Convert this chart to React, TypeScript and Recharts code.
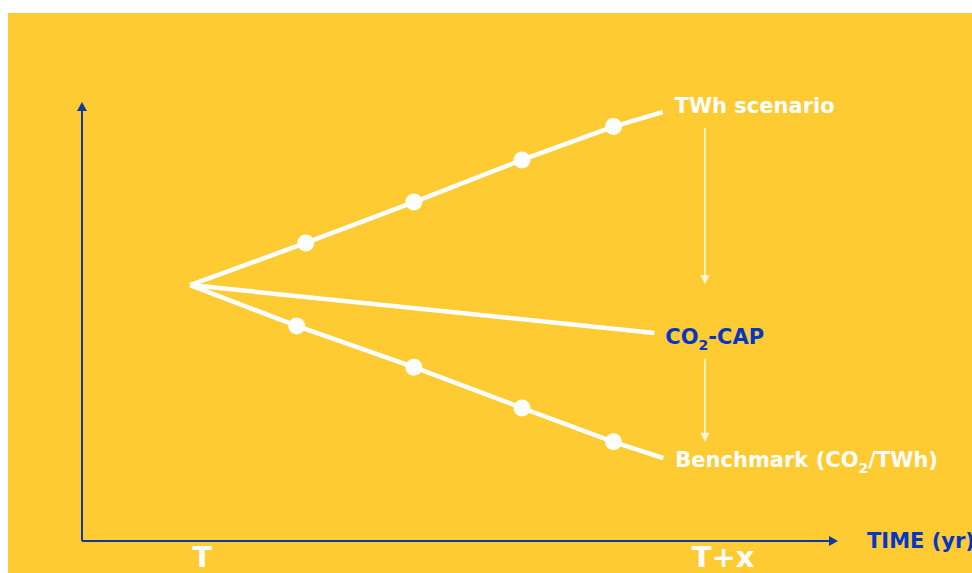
import React from 'react';
import { LineChart, Line, XAxis, YAxis, ReferenceLine, LabelList } from 'recharts';

// Escenarios (unidades arbitrarias: tiempo 0-100, nivel 0-100)
const twhX = [14.3, 29.6, 43.9, 58.2, 70.3, 76.8];
const twhY = [58.3, 67.9, 77.2, 86.8, 94.4, 97.7];
const capX = [14.3, 75.7];
const capY = [58.3, 47.4];
const benchX = [14.3, 28.4, 43.9, 58.2, 70.3, 76.9];
const benchY = [58.3, 49.0, 39.6, 30.3, 22.6, 18.9];

const seriesNames = ['TWh scenario', 'CO2-CAP', 'Benchmark (CO2/TWh)'];

const tickValues = [15.9, 84.8];
const tickLabels = ['T', 'T+x'];

// flechas verticales entre escenarios
const shiftArrows = [
  { x: 82.4, from: 94.1, to: 58.5 },
  { x: 82.4, from: 41.5, to: 22.6 },
];

const YELLOW = '#FECB33';
const NAVY = '#0B3C9C';
const BLUE = '#0636C4';
const FONT = '"DejaVu Sans", Verdana, sans-serif';

const toRows = (xs: number[], ys: number[], name: string) =>
  xs.map((x, i) => ({ x, y: ys[i], name: i === xs.length - 1 ? name : '' }));

const twhData = toRows(twhX, twhY, seriesNames[0]);
const capData = toRows(capX, capY, seriesNames[1]);
const benchData = toRows(benchX, benchY, seriesNames[2]);

function arrowShape(color: string, width: number, head: number, half: number) {
  return (p: any) => {
    const { x1, y1, x2, y2 } = p;
    const dx = x2 - x1;
    const dy = y2 - y1;
    const len = Math.sqrt(dx * dx + dy * dy) || 1;
    const ux = dx / len;
    const uy = dy / len;
    const bx = x2 - ux * head;
    const by = y2 - uy * head;
    const pts = `${x2},${y2} ${bx - uy * half},${by + ux * half} ${bx + uy * half},${by - ux * half}`;
    return (
      <g>
        <line x1={x1} y1={y1} x2={bx} y2={by} stroke={color} strokeWidth={width} />
        <polygon points={pts} fill={color} />
      </g>
    );
  };
}

// "CO2" con el 2 en subíndice
function renderName(text: string, x: number, y: number, fill: string) {
  const chunks = text.split(/(?<=CO)2/);
  const spans: React.ReactNode[] = [];
  chunks.forEach((c, i) => {
    if (i > 0) {
      spans.push(<tspan key={`s${i}`} fontSize={14} dy={6}>2</tspan>);
      spans.push(<tspan key={`t${i}`} dy={-6}>{c}</tspan>);
    } else {
      spans.push(<tspan key={`t${i}`}>{c}</tspan>);
    }
  });
  return (
    <text x={x} y={y} fill={fill} fontFamily={FONT} fontWeight="bold" fontSize={21}>
      {spans}
    </text>
  );
}

function endLabel(fill: string, dx: number, dy: number) {
  return (props: any) => {
    const { x, y, value } = props;
    if (!value) return null;
    return renderName(String(value), Number(x) + dx, Number(y) + dy, fill);
  };
}

function innerDot(count: number) {
  return (props: any) => {
    const { cx, cy, index } = props;
    if (index === 0 || index === count - 1) return <g key={`d-${index}`} />;
    return <circle key={`d-${index}`} cx={cx} cy={cy} r={8.5} fill="#ffffff" stroke="none" />;
  };
}

function TimeTick(props: any) {
  const { x, y, payload } = props;
  const i = tickValues.indexOf(payload.value);
  return (
    <text x={x} y={y + 26} textAnchor="middle" fill="#ffffff" fontFamily={FONT} fontWeight="bold" fontSize={29}>
      {tickLabels[i]}
    </text>
  );
}

export default function App() {
  return (
    <div style={{ position: 'absolute', left: 8, top: 13, width: 964, height: 560, background: YELLOW }}>
      <LineChart width={964} height={560} margin={{ top: 89, right: 134, bottom: 2, left: 74 }}>
        <XAxis
          type="number"
          dataKey="x"
          domain={[0, 100]}
          ticks={tickValues}
          axisLine={false}
          tickLine={false}
          tickSize={0}
          tickMargin={0}
          height={30}
          tick={<TimeTick />}
          interval={0}
        />
        <YAxis type="number" dataKey="y" domain={[0, 100]} hide />

        <ReferenceLine
          segment={[{ x: 0, y: 0 }, { x: 100, y: 0 }]}
          shape={arrowShape(NAVY, 2, 9, 5)}
          label={{ value: 'TIME (yr)', position: 'right', offset: 29, fill: BLUE, fontSize: 21, fontWeight: 'bold', fontFamily: FONT }}
        />
        <ReferenceLine segment={[{ x: 0, y: 0 }, { x: 0, y: 100 }]} shape={arrowShape(NAVY, 2, 9, 5)} />

        {shiftArrows.map((a, i) => (
          <ReferenceLine
            key={i}
            segment={[{ x: a.x, y: a.from }, { x: a.x, y: a.to }]}
            shape={arrowShape('#FFF6DC', 1.6, 9, 4.5)}
          />
        ))}

        <Line data={twhData} dataKey="y" stroke="#ffffff" strokeWidth={4.5} dot={innerDot(twhData.length)} isAnimationActive={false}>
          <LabelList dataKey="name" content={endLabel('#ffffff', 12, 1)} />
        </Line>
        <Line data={capData} dataKey="y" stroke="#ffffff" strokeWidth={4.5} dot={false} isAnimationActive={false}>
          <LabelList dataKey="name" content={endLabel(BLUE, 11, 11)} />
        </Line>
        <Line data={benchData} dataKey="y" stroke="#ffffff" strokeWidth={4.5} dot={innerDot(benchData.length)} isAnimationActive={false}>
          <LabelList dataKey="name" content={endLabel('#ffffff', 12, 9)} />
        </Line>
      </LineChart>
    </div>
  );
}
